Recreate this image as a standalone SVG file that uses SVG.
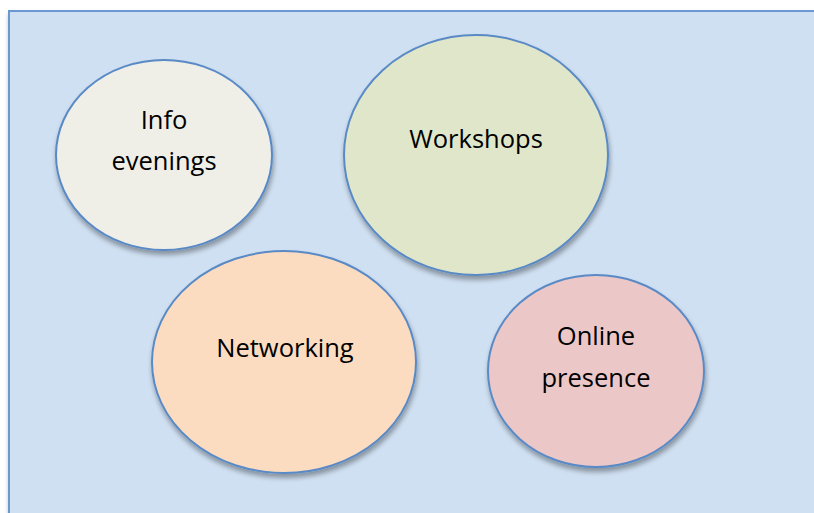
<svg xmlns="http://www.w3.org/2000/svg" width="814" height="513" viewBox="0 0 814 513">
<defs>
<filter id="sh" x="-10%" y="-10%" width="125%" height="130%">
<feGaussianBlur in="SourceAlpha" stdDeviation="2.5"/>
<feOffset dx="1" dy="4" result="b"/>
<feComponentTransfer><feFuncA type="linear" slope="0.35"/></feComponentTransfer>
<feMerge><feMergeNode/><feMergeNode in="SourceGraphic"/></feMerge>
</filter>
<style>
.n{stroke:#5a8ac6;stroke-width:2;filter:url(#sh)}
.t{font-family:"Open Sans","Liberation Sans",sans-serif;font-size:25.5px;fill:#000;text-anchor:middle}
</style>
</defs>
<rect width="814" height="513" fill="#ffffff"/>
<rect x="9" y="11" width="820" height="520" fill="#cfe0f2" stroke="#6a98d0" stroke-width="2" filter="url(#sh)"/>
<g id="info-evenings">
<ellipse class="n" cx="164" cy="155" rx="108" ry="95" fill="#efefe8"/>
<text class="t" x="164" y="129">Info</text>
<text class="t" x="164" y="170">evenings</text>
</g>
<g id="workshops">
<ellipse class="n" cx="476" cy="155" rx="132" ry="120" fill="#dfe6c9"/>
<text class="t" x="476" y="148">Workshops</text>
</g>
<g id="networking">
<ellipse class="n" cx="284" cy="362" rx="132" ry="111" fill="#fbdcc0"/>
<text class="t" x="285" y="357">Networking</text>
</g>
<g id="online-presence">
<ellipse class="n" cx="596" cy="371" rx="108" ry="96" fill="#ecc7c7"/>
<text class="t" x="596" y="345">Online</text>
<text class="t" x="596" y="387">presence</text>
</g>
<g id="connectors"/>
</svg>
